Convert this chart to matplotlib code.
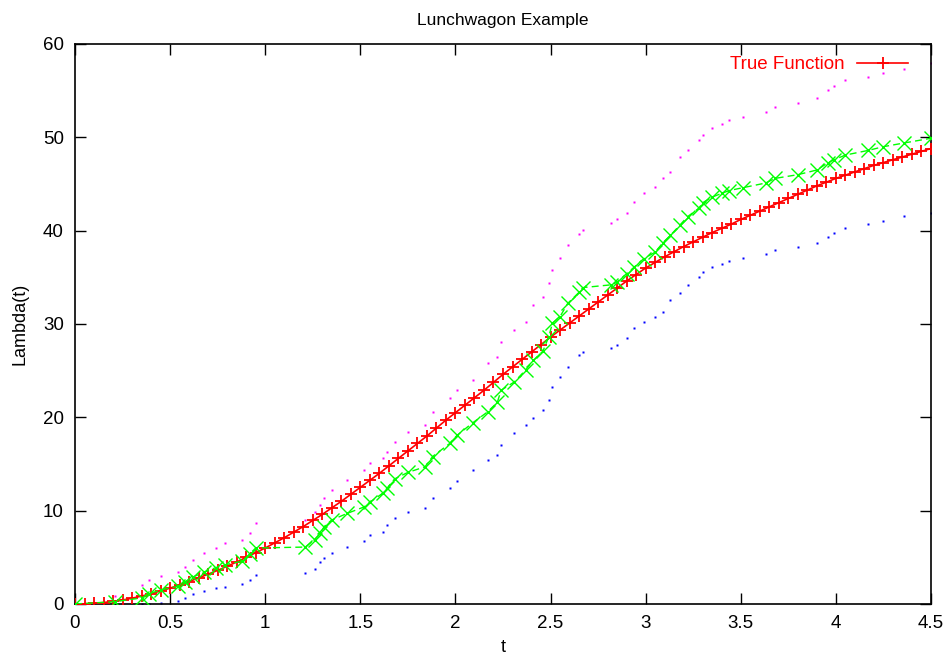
import numpy as np
import matplotlib
matplotlib.use('Agg')
import matplotlib.pyplot as plt

plt.rcParams['font.family'] = ['Liberation Sans', 'DejaVu Sans']

#%% Datos leidos del grafico
# funcion verdadera, muestreada cada 0.05
t_true = np.linspace(0, 4.5, 91)
lam_true = [0, 0.02, 0.07, 0.16, 0.28, 0.43, 0.62, 0.85, 1.1, 1.4,
            1.7, 2.05, 2.4, 2.8, 3.2, 3.6, 4.05, 4.5, 5.0, 5.5,
            6.0, 6.55, 7.1, 7.7, 8.3, 8.95, 9.6, 10.3, 11.0, 11.75,
            12.5, 13.25, 14.0, 14.8, 15.6, 16.4, 17.2, 18.0, 18.85, 19.7,
            20.5, 21.3, 22.1, 22.9, 23.75, 24.6, 25.4, 26.2, 27.0, 27.8,
            28.6, 29.35, 30.1, 30.85, 31.6, 32.35, 33.1, 33.85, 34.6, 35.3,
            36.0, 36.6, 37.2, 37.75, 38.3, 38.8, 39.3, 39.8, 40.25, 40.7,
            41.2, 41.65, 42.1, 42.55, 43.0, 43.45, 43.9, 44.35, 44.8, 45.2,
            45.6, 45.95, 46.3, 46.65, 47.0, 47.3, 47.6, 47.9, 48.2, 48.5,
            48.8]

# estimacion en los tiempos de evento
t_ev = [0, 0.21, 0.35, 0.39, 0.45, 0.54, 0.58, 0.62, 0.68, 0.74,
        0.79, 0.88, 0.92, 0.95, 1.21, 1.26, 1.29, 1.31, 1.35, 1.43,
        1.52, 1.55, 1.62, 1.64, 1.68, 1.75, 1.84, 1.88, 1.97, 2.01,
        2.09, 2.17, 2.22, 2.24, 2.31, 2.37, 2.41, 2.46, 2.49, 2.51,
        2.55, 2.59, 2.65, 2.67, 2.82, 2.85, 2.90, 2.94, 2.99, 3.05,
        3.09, 3.13, 3.18, 3.22, 3.28, 3.30, 3.35, 3.40, 3.44, 3.51,
        3.63, 3.68, 3.80, 3.90, 3.96, 3.99, 4.05, 4.17, 4.25, 4.36,
        4.50]
lam_est = [0, 0.25, 0.65, 1.1, 1.5, 1.9, 2.4, 2.9, 3.4, 3.9,
           4.2, 4.6, 5.4, 6.0, 6.1, 6.9, 7.6, 8.3, 9.0, 9.7,
           10.4, 10.9, 11.9, 12.4, 13.4, 14.1, 14.7, 15.8, 17.2, 18.1,
           19.4, 20.6, 21.6, 22.9, 23.8, 25.1, 26.1, 27.1, 28.6, 30.1,
           30.8, 32.2, 33.4, 33.9, 34.2, 34.5, 35.4, 36.1, 37.0, 37.7,
           38.7, 39.5, 40.6, 41.5, 42.4, 43.0, 43.6, 44.0, 44.3, 44.6,
           45.1, 45.6, 46.0, 46.5, 47.3, 47.6, 48.1, 48.6, 49.0, 49.4,
           49.9]
lam_sup = [0, 0.9, 2.0, 2.6, 3.0, 3.4, 4.0, 4.7, 5.5, 6.0,
           6.5, 6.9, 7.6, 8.7, 9.0, 9.9, 10.6, 11.4, 12.2, 13.3,
           14.4, 15.1, 15.6, 16.3, 17.4, 18.4, 19.2, 20.6, 22.1, 22.9,
           24.0, 25.8, 26.5, 28.1, 29.4, 30.2, 32.0, 32.9, 34.4, 35.8,
           37.1, 38.5, 39.6, 40.1, 40.8, 41.2, 41.9, 43.1, 44.0, 44.7,
           45.6, 46.3, 47.9, 48.6, 49.7, 50.3, 51.0, 51.4, 51.9, 52.2,
           52.7, 53.3, 53.7, 54.2, 55.1, 55.5, 56.1, 56.5, 56.9, 57.3,
           58.0]
lam_inf = [0, 0, 0, 0, 0.1, 0.3, 0.6, 1.1, 1.4, 1.7,
           1.8, 2.1, 2.6, 3.1, 3.3, 3.8, 4.5, 4.9, 5.5, 6.1,
           6.8, 7.4, 7.7, 8.5, 9.2, 9.9, 10.3, 11.4, 12.4, 13.2,
           14.4, 15.4, 16.0, 17.0, 18.3, 19.2, 19.9, 20.8, 21.9, 23.2,
           24.3, 25.4, 26.7, 27.0, 27.4, 27.7, 28.5, 29.6, 30.2, 30.7,
           31.3, 32.6, 33.3, 34.2, 35.0, 35.6, 36.1, 36.4, 36.7, 37.1,
           37.5, 37.9, 38.2, 38.7, 39.3, 39.7, 40.3, 40.7, 41.0, 41.6,
           41.9]

#%% Grafico
fig = plt.figure(figsize=(9.45, 6.6), dpi=100)
ax = fig.add_axes([75/945, 56/660, 856/945, 560/660])

ax.plot(t_ev, lam_sup, linestyle='none', marker='s', ms=1.5, color='#ff00ff', mec='none')
ax.plot(t_ev, lam_inf, linestyle='none', marker='s', ms=1.5, color='#0000ff', mec='none')
ax.plot(t_true, lam_true, color='red', lw=1.2, marker='+', ms=9, mew=1.3,
        label='True Function', zorder=3)
ax.plot(t_ev, lam_est, color='#00ff00', lw=1, dashes=(5, 3), marker='x', ms=10,
        mew=1, zorder=4)

ax.set_xlim(0, 4.5)
ax.set_ylim(0, 60)
ax.set_xticks(np.arange(0, 4.51, 0.5))
ax.set_xticklabels(['0', '0.5', '1', '1.5', '2', '2.5', '3', '3.5', '4', '4.5'])
ax.set_yticks(range(0, 61, 10))
ax.tick_params(direction='in', length=8, width=1, top=True, right=True,
               labelsize=13.5, pad=8)
for s in ax.spines.values():
    s.set_linewidth(1.2)

ax.set_xlabel('t', fontsize=13, labelpad=5)
ax.set_ylabel('Lambda(t)', fontsize=13, labelpad=10)
ax.set_title('Lunchwagon Example', fontsize=12.5, pad=14)

leg = ax.legend(loc='upper right', frameon=False, markerfirst=False,
                fontsize=13.5, labelcolor='red', handlelength=2.7,
                handletextpad=0.7, borderaxespad=0.6,
                bbox_to_anchor=(0.995, 1.012))

fig.savefig('out.png', dpi=100)
